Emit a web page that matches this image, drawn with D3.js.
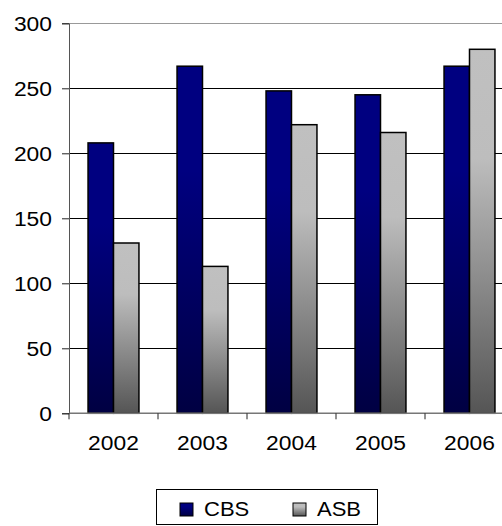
<!DOCTYPE html>
<html>
<head>
<meta charset="utf-8">
<script src="https://cdn.jsdelivr.net/npm/d3@7"></script>
<style>
  body { margin: 0; background: #fff; overflow: hidden; }
  svg { display: block; font-family: "Liberation Sans", Arial, sans-serif; }
</style>
</head>
<body>
<svg id="chart" width="502" height="526"></svg>
<script>
// chart data
const years = ["2002", "2003", "2004", "2005", "2006"];
const seriesNames = ["CBS", "ASB"];
const cbsValues = [208, 267, 248, 245, 267];
const asbValues = [131, 113, 222, 216, 280];
const yTicks = [0, 50, 100, 150, 200, 250, 300];

const svg = d3.select("#chart");

const plotLeft = 69, plotRight = 514, plotTop = 23.3, plotBottom = 413.3;
const stretch = 1.17; // labels in the original are drawn a bit wide

const x = d3.scaleBand()
    .domain(years)
    .range([plotLeft, plotRight])
    .paddingInner(0.428)
    .paddingOuter(0.214);

const xs = d3.scaleBand()
    .domain(seriesNames)
    .range([0, x.bandwidth()]);

const y = d3.scaleLinear()
    .domain([0, 300])
    .range([plotBottom, plotTop]);

// gradients, one per series
const defs = svg.append("defs");
function addGrad(id, stops) {
    const g = defs.append("linearGradient")
        .attr("id", id)
        .attr("x1", 0).attr("y1", 0)
        .attr("x2", 0).attr("y2", 1);
    stops.forEach(s => g.append("stop").attr("offset", s[0]).attr("stop-color", s[1]));
}
addGrad("gradCBS", [[0, "#000080"], [0.3, "#000080"], [1, "#000042"]]);
addGrad("gradASB", [[0, "#c0c0c0"], [0.3, "#bdbdbd"], [1, "#555555"]]);
const fills = { CBS: "url(#gradCBS)", ASB: "url(#gradASB)" };

// gridlines
svg.append("g")
    .selectAll("line")
    .data(yTicks.filter(d => d > 0))
    .enter().append("line")
    .attr("x1", plotLeft)
    .attr("x2", plotRight)
    .attr("y1", d => y(d))
    .attr("y2", d => y(d))
    .attr("stroke", d => d === 300 ? "#999" : "#000")
    .attr("stroke-width", d => d === 300 ? 1.5 : 1)
    .attr("shape-rendering", "crispEdges");

// bars
const rows = years.map((yr, i) => ({ year: yr, CBS: cbsValues[i], ASB: asbValues[i] }));

svg.append("g")
    .selectAll("g")
    .data(rows)
    .enter().append("g")
    .attr("transform", d => `translate(${x(d.year)},0)`)
    .selectAll("rect")
    .data(d => seriesNames.map(s => ({ key: s, value: d[s] })))
    .enter().append("rect")
    .attr("x", d => xs(d.key))
    .attr("width", xs.bandwidth())
    .attr("y", d => y(d.value))
    .attr("height", d => y(0) - y(d.value))
    .attr("fill", d => fills[d.key])
    .attr("stroke", "#000")
    .attr("stroke-width", 1.5);

// y axis
const yAxis = svg.append("g")
    .attr("transform", `translate(${plotLeft},0)`)
    .call(d3.axisLeft(y).tickValues(yTicks).tickSize(7).tickPadding(10));
yAxis.select(".domain").attr("stroke", "#555");
yAxis.selectAll(".tick line").attr("stroke", "#222");
yAxis.selectAll("text")
    .attr("font-size", 19.5)
    .attr("fill", "#000")
    .attr("font-family", "Liberation Sans, Arial, sans-serif")
    .attr("dy", "0.35em")
    .attr("x", -17 / stretch)
    .attr("transform", `scale(${stretch},1)`);

// x axis: baseline + ticks at category boundaries
const step = x.step();
const bounds = d3.range(years.length + 1).map(i => plotLeft + i * step);
svg.append("line")
    .attr("x1", plotLeft).attr("x2", plotRight)
    .attr("y1", plotBottom).attr("y2", plotBottom)
    .attr("stroke", "#777").attr("stroke-width", 1.5);
svg.append("g")
    .selectAll("line")
    .data(bounds)
    .enter().append("line")
    .attr("x1", d => d).attr("x2", d => d)
    .attr("y1", plotBottom).attr("y2", plotBottom + 6)
    .attr("stroke", "#222");
svg.append("g")
    .selectAll("text")
    .data(years)
    .enter().append("text")
    .attr("transform", d => `translate(${x(d) + x.bandwidth() / 2},450) scale(${stretch},1)`)
    .attr("text-anchor", "middle")
    .attr("font-size", 19.5)
    .text(d => d);

// legend
const legend = svg.append("g");
legend.append("rect")
    .attr("x", 156.5).attr("y", 489.5)
    .attr("width", 221).attr("height", 35)
    .attr("fill", "#fff")
    .attr("stroke", "#000");
const legendX = [180, 293];
const item = legend.selectAll("g.item")
    .data(seriesNames)
    .enter().append("g")
    .attr("class", "item")
    .attr("transform", (d, i) => `translate(${legendX[i]},503)`);
item.append("rect")
    .attr("width", 13).attr("height", 13)
    .attr("fill", d => fills[d])
    .attr("stroke", "#000");
item.append("text")
    .attr("transform", "translate(24,12.5) scale(1.1,1)")
    .attr("font-size", 20)
    .text(d => d);
</script>
</body>
</html>
